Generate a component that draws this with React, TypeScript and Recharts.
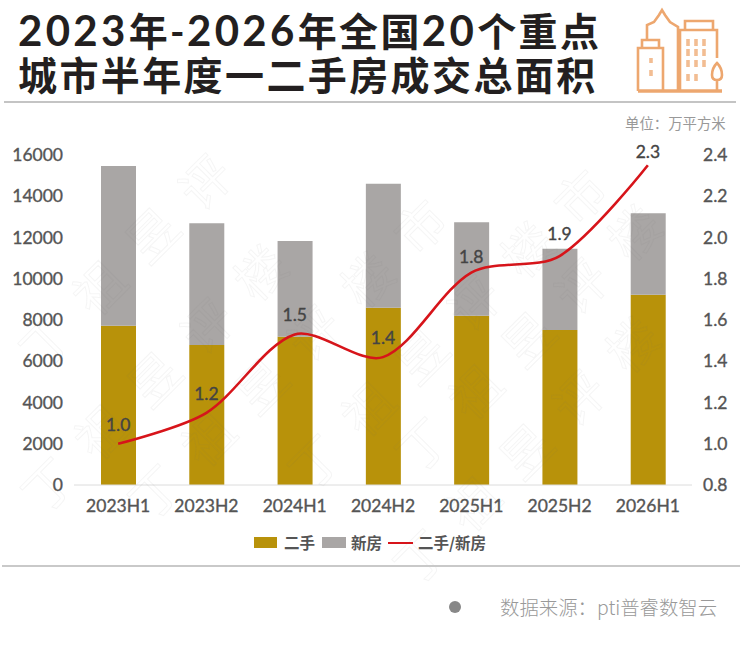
import {
  Bar,
  ComposedChart,
  LabelList,
  Legend,
  Line,
  XAxis,
  YAxis,
} from "recharts";

const periods = ["2023H1", "2023H2", "2024H1", "2024H2", "2025H1", "2025H2", "2026H1"];
const secondHand = [7725, 6790, 7190, 8600, 8210, 7515, 9225];
const newHomes = [7740, 5895, 4640, 6010, 4525, 3945, 3945];
const ratio = [1.0, 1.15, 1.53, 1.42, 1.83, 1.91, 2.35];
const ratioLabels = ["1.0", "1.2", "1.5", "1.4", "1.8", "1.9", "2.3"];
const leftTicks = [0, 2000, 4000, 6000, 8000, 10000, 12000, 14000, 16000];
const rightTicks = [0.8, 1.0, 1.2, 1.4, 1.6, 1.8, 2.0, 2.2, 2.4];

const data = periods.map((period, i) => ({
  period,
  secondHand: secondHand[i],
  newHomes: newHomes[i],
  ratio: ratio[i],
  label: ratioLabels[i],
}));

const GOLD = "#B8920A";
const GREY = "#A9A6A5";
const RED = "#D7141A";
const LATIN = "Lato, 'Noto Sans CJK SC', sans-serif";
const CJK = "'Noto Sans CJK SC', sans-serif";

const tickStyle = { fill: "#555", stroke: "#555", strokeWidth: 0.35, fontSize: 17.5, fontFamily: LATIN };

// Nudges for the ratio labels, the source placed them by hand
const labelShift = [0, 0, 0, 0, 3, -3, 6];

// Excel style smoothed line: tangent through the neighbours, handles split by chord length
function excelSmooth(context: any) {
  let pts: number[][] = [];
  const handles = (a: number[], b: number[], c: number[]) => {
    const d1 = Math.hypot(b[0] - a[0], b[1] - a[1]);
    const d2 = Math.hypot(c[0] - b[0], c[1] - b[1]);
    const total = d1 + d2 || 1;
    const k = 0.3;
    return {
      back: [b[0] - (c[0] - a[0]) * (d1 / total) * k, b[1] - (c[1] - a[1]) * (d1 / total) * k],
      out: [b[0] + (c[0] - a[0]) * (d2 / total) * k, b[1] + (c[1] - a[1]) * (d2 / total) * k],
    };
  };
  return {
    areaStart() {},
    areaEnd() {},
    lineStart() {
      pts = [];
    },
    point(x: number, y: number) {
      pts.push([+x, +y]);
    },
    lineEnd() {
      pts.forEach((p, i) => {
        if (i === 0) {
          context.moveTo(p[0], p[1]);
          return;
        }
        const b = pts[i - 1];
        const c1 = i === 1 ? b : handles(pts[i - 2], b, p).out;
        const c2 = i === pts.length - 1 ? p : handles(b, p, pts[i + 1]).back;
        context.bezierCurveTo(c1[0], c1[1], c2[0], c2[1], p[0], p[1]);
      });
    },
  };
}

function RatioLabel(props: any) {
  const { x, y, value, index } = props;
  return (
    <text x={x} y={y - 13 + labelShift[index]} textAnchor="middle" fill="#444" stroke="#444" strokeWidth={0.35} fontSize={17.5} fontFamily={LATIN}>
      {value}
    </text>
  );
}

function BuildingIcon() {
  return (
    <svg width={740} height={105} style={{ position: "absolute", left: 0, top: 0 }} fill="none" stroke="#EDA76F" strokeWidth={2.6}>
      <path d="M638 91H722" strokeWidth={3.4} />
      <path d="M638 91V48H663V91M642 48V40H659V48" />
      <path d="M647 40V25L654 22L659 15L662 10L665 15L670 22L678 27V91" />
      <path d="M678 30H717V58M685 30V21H713V30M680 30V91" />
      <path d="M717 63C713 67 712 72 712 75C712 79 714 80 717 80C720 80 722 79 722 75C722 72 721 67 717 63ZM717 80V91" />
      <path
        d="M688 39V46M696 39V46M704 39V46M688 49V56M696 49V56M704 49V56M688 60V67M696 60V67M704 60V67M688 74V81M696 74V81M651 58V63M651 70V76"
        strokeWidth={3.6}
        strokeOpacity={0.75}
      />
    </svg>
  );
}

function Title() {
  const digits = { fontSize: 42, letterSpacing: 3.3 };
  return (
    <svg width={620} height={100} style={{ position: "absolute", left: 0, top: 0 }} fill="#231F20" fontFamily={LATIN} fontWeight={700} fontSize={39} letterSpacing={2.4}>
      <text x={18} y={46}>
        <tspan {...digits}>2023</tspan>年-<tspan {...digits}>2026</tspan>年全国<tspan {...digits}>20</tspan>个重点
      </text>
      <text x={18} y={90}>城市半年度一二手房成交总面积</text>
    </svg>
  );
}

function ChartLegend() {
  const textStyle = { fontFamily: CJK, fontSize: 15.5, fontWeight: 700, color: "#555", position: "absolute" as const, top: -12, whiteSpace: "nowrap" as const };
  return (
    <div style={{ position: "relative", height: 0 }}>
      <div style={{ position: "absolute", left: 254, top: -6, width: 23, height: 11, background: GOLD }} />
      <span style={{ ...textStyle, left: 284 }}>二手</span>
      <div style={{ position: "absolute", left: 322, top: -6, width: 24, height: 11, background: GREY }} />
      <span style={{ ...textStyle, left: 351 }}>新房</span>
      <div style={{ position: "absolute", left: 388, top: -1.5, width: 25, height: 2.5, background: RED }} />
      <span style={{ ...textStyle, left: 418 }}>二手/新房</span>
    </div>
  );
}

// Faint diagonal watermark, one run per start point
const watermarkRuns = [
  { x: 42, y: 372, text: "丁祖昱评" },
  { x: 44, y: 516, text: "丁祖昱评楼" },
  { x: 151, y: 523, text: "丁祖昱评楼市" },
  { x: 311, y: 493, text: "丁祖昱评楼市" },
  { x: 418, y: 476, text: "丁祖昱评楼" },
  { x: 416, y: 588, text: "丁祖昱评楼" },
];

function Watermark() {
  return (
    <svg width={740} height={652} style={{ position: "absolute", left: 0, top: 0, pointerEvents: "none" }}>
      {watermarkRuns.map((run) => (
        <text
          key={`${run.x}-${run.y}`}
          transform={`translate(${run.x} ${run.y}) rotate(-45)`}
          fontFamily={CJK}
          fontSize={50}
          letterSpacing={25}
          fill="none"
          stroke="rgba(120,120,120,0.07)"
          strokeWidth={1}
        >
          {run.text}
        </text>
      ))}
    </svg>
  );
}

export default function App() {
  return (
    <div style={{ position: "absolute", left: 0, top: 0, width: 740, height: 652, background: "#fff", overflow: "hidden" }}>
      <Title />
      <BuildingIcon />
      <div style={{ position: "absolute", left: 4, top: 101, width: 732, height: 1.5, background: "#c4c4c4" }} />
      <div style={{ position: "absolute", left: 625, top: 112, whiteSpace: "nowrap", fontFamily: CJK, fontSize: 14.4, color: "#999" }}>单位：万平方米</div>

      <div style={{ position: "absolute", left: 0, top: 0 }}>
        <ComposedChart width={740} height={652} data={data} margin={{ top: 155, right: 0, bottom: 137, left: 0 }}>
          <XAxis
            dataKey="period"
            height={30}
            tickLine={false}
            tickSize={0}
            tickMargin={15}
            axisLine={{ stroke: "#dcdcdc" }}
            tick={tickStyle}
            interval={0}
          />
          <YAxis
            yAxisId="left"
            width={74}
            domain={[0, 16000]}
            ticks={leftTicks}
            interval={0}
            tickLine={false}
            axisLine={false}
            tickSize={0}
            tickMargin={11}
            tick={tickStyle}
          />
          <YAxis
            yAxisId="right"
            orientation="right"
            width={48}
            domain={[0.8, 2.4]}
            ticks={rightTicks}
            interval={0}
            tickFormatter={(v: number) => v.toFixed(1)}
            tickLine={false}
            axisLine={false}
            tickSize={0}
            tickMargin={11}
            tick={tickStyle}
          />
          <Legend content={ChartLegend} wrapperStyle={{ left: 0, top: 543, width: 740, height: 0 }} />
          <Bar yAxisId="left" dataKey="secondHand" name="二手" stackId="total" fill={GOLD} barSize={35} isAnimationActive={false} />
          <Bar yAxisId="left" dataKey="newHomes" name="新房" stackId="total" fill={GREY} barSize={35} isAnimationActive={false} />
          <Line yAxisId="right" type={excelSmooth as any} dataKey="ratio" name="二手/新房" stroke={RED} strokeWidth={2.6} dot={false} isAnimationActive={false}>
            <LabelList dataKey="label" content={RatioLabel} />
          </Line>
        </ComposedChart>
      </div>

      <Watermark />
      <div style={{ position: "absolute", left: 2, top: 565, width: 738, height: 1.5, background: "#c9c9c9" }} />
      <div style={{ position: "absolute", left: 449, top: 601, width: 12, height: 12, borderRadius: 6, background: "#888" }} />
      <div style={{ position: "absolute", left: 500, top: 592, whiteSpace: "nowrap", fontFamily: CJK, fontSize: 19.4, color: "#999", fontWeight: 300 }}>数据来源：pti普睿数智云</div>
    </div>
  );
}
